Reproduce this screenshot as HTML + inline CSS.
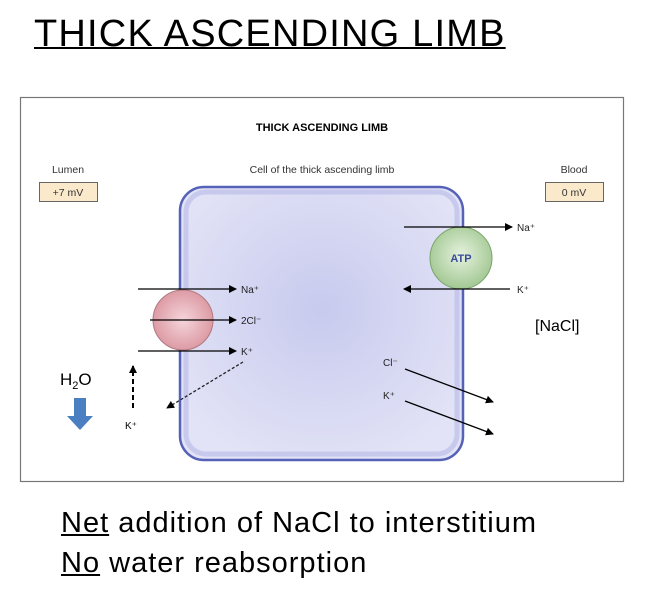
<!DOCTYPE html>
<html><head><style>
body{margin:0;width:653px;height:603px;background:#fff;overflow:hidden;font-family:"Liberation Sans",sans-serif;}
.h{position:absolute;left:34px;top:13px;font-size:38px;text-decoration:underline;text-decoration-thickness:2px;letter-spacing:1.2px;}
.b{position:absolute;left:61px;font-size:29px;letter-spacing:1px;}
</style></head><body>
<div class="h">THICK ASCENDING LIMB</div>
<svg width="653" height="603" style="position:absolute;left:0;top:0">
<defs>
<radialGradient id="cg" cx="0.5" cy="0.45" r="0.6"><stop offset="0" stop-color="#c8caee"/><stop offset="1" stop-color="#e2e3f6"/></radialGradient>
<radialGradient id="pg" cx="0.5" cy="0.5" r="0.6"><stop offset="0" stop-color="#f5d5da"/><stop offset="1" stop-color="#d88f9a"/></radialGradient>
<radialGradient id="gg" cx="0.5" cy="0.45" r="0.6"><stop offset="0" stop-color="#e6f2de"/><stop offset="1" stop-color="#9cc48c"/></radialGradient>
<marker id="a" markerWidth="8" markerHeight="8" refX="7" refY="4" orient="auto" markerUnits="userSpaceOnUse"><path d="M0,0 L8,4 L0,8z" fill="#000"/></marker>
</defs>
<rect x="20.5" y="97.5" width="603" height="384" fill="#fff" stroke="#777" stroke-width="1.2"/>
<text x="322" y="131" font-size="11" font-weight="bold" text-anchor="middle">THICK ASCENDING LIMB</text>
<text x="322" y="173" font-size="10.5" text-anchor="middle" fill="#333">Cell of the thick ascending limb</text>
<text x="68" y="173" font-size="10.5" text-anchor="middle" fill="#333">Lumen</text>
<rect x="39.5" y="182.5" width="58" height="19" fill="#fbe9cc" stroke="#666"/>
<text x="68" y="196" font-size="10.5" text-anchor="middle" fill="#333">+7 mV</text>
<text x="574" y="173" font-size="10.5" text-anchor="middle" fill="#333">Blood</text>
<rect x="545.5" y="182.5" width="58" height="19" fill="#fbe9cc" stroke="#666"/>
<text x="574" y="196" font-size="10.5" text-anchor="middle" fill="#333">0 mV</text>
<rect x="180" y="187" width="283" height="273" rx="24" fill="url(#cg)" stroke="#5662b8" stroke-width="2.5"/>
<rect x="186" y="192" width="271" height="262" rx="20" fill="none" stroke="#b6b9e6" stroke-width="5" opacity="0.6"/>
<circle cx="183" cy="320" r="30" fill="url(#pg)" stroke="#b07880"/>
<line x1="138" y1="289" x2="236" y2="289" stroke="#000" stroke-width="1.3" marker-end="url(#a)"/>
<line x1="150" y1="320" x2="236" y2="320" stroke="#000" stroke-width="1.3" marker-end="url(#a)"/>
<line x1="138" y1="351" x2="236" y2="351" stroke="#000" stroke-width="1.3" marker-end="url(#a)"/>
<text x="241" y="293" font-size="10" fill="#222">Na⁺</text>
<text x="241" y="324" font-size="10" fill="#222">2Cl⁻</text>
<text x="241" y="355" font-size="10" fill="#222">K⁺</text>
<line x1="243" y1="362" x2="167" y2="408" stroke="#222" stroke-width="1.3" stroke-dasharray="3,2" marker-end="url(#a)"/>
<line x1="133" y1="408" x2="133" y2="366" stroke="#000" stroke-width="2" stroke-dasharray="5,3" marker-end="url(#a)"/>
<text x="125" y="429" font-size="10">K⁺</text>
<text x="60" y="385" font-size="17">H<tspan font-size="11" dy="4">2</tspan><tspan dy="-4">O</tspan></text>
<path d="M74,398 h12 v18 h7 l-13,14 l-13,-14 h7z" fill="#4a7fc1"/>
<circle cx="461" cy="258" r="31" fill="url(#gg)" stroke="#7aa36c"/>
<text x="461" y="262" font-size="11" font-weight="bold" fill="#3a4a9a" text-anchor="middle">ATP</text>
<line x1="404" y1="227" x2="512" y2="227" stroke="#000" stroke-width="1.3" marker-end="url(#a)"/>
<text x="517" y="231" font-size="10" fill="#222">Na⁺</text>
<line x1="510" y1="289" x2="404" y2="289" stroke="#000" stroke-width="1.3" marker-end="url(#a)"/>
<text x="517" y="293" font-size="10" fill="#222">K⁺</text>
<text x="535" y="331" font-size="16">[NaCl]</text>
<text x="383" y="366" font-size="10" fill="#222">Cl⁻</text>
<line x1="405" y1="369" x2="493" y2="402" stroke="#000" stroke-width="1.3" marker-end="url(#a)"/>
<text x="383" y="399" font-size="10" fill="#222">K⁺</text>
<line x1="405" y1="401" x2="493" y2="434" stroke="#000" stroke-width="1.3" marker-end="url(#a)"/>
</svg>
<div class="b" style="top:507px"><u>Net</u> addition of NaCl to interstitium</div>
<div class="b" style="top:547px"><u>No</u> water reabsorption</div>
</body></html>
